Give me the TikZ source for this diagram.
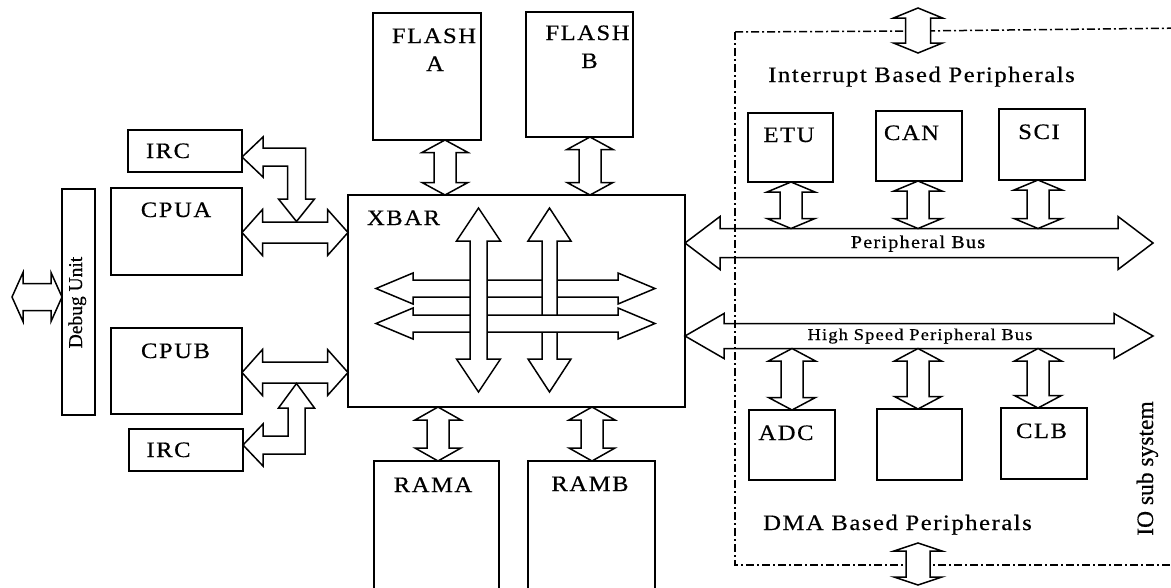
\documentclass[tikz,border=0pt]{standalone}
\usepackage{fontspec}
\setmainfont{Liberation Serif}[FakeBold=0.5]
\newfontfamily\widefont[FakeStretch=1.12,LetterSpace=7,FakeBold=0.5]{Liberation Serif}
\usetikzlibrary{calc,fit}
% vertical double block arrow: x(px), top anchor, bottom anchor, half head, half shaft, head length
\newcommand\vdaN[6]{\draw[barrow] let \p1=(#2), \p2=(#3) in
 (#1pt,\y1) -- ({#1pt+#4pt},{\y1-#6pt}) -- ({#1pt+#5pt},{\y1-#6pt}) -- ({#1pt+#5pt},{\y2+#6pt}) -- ({#1pt+#4pt},{\y2+#6pt}) -- (#1pt,\y2) -- ({#1pt-#4pt},{\y2+#6pt}) -- ({#1pt-#5pt},{\y2+#6pt}) -- ({#1pt-#5pt},{\y1-#6pt}) -- ({#1pt-#4pt},{\y1-#6pt}) -- cycle;}
% horizontal double block arrow: y(px), left anchor, right anchor, half head, half shaft, head length
\newcommand\hdaN[6]{\draw[barrow] let \p1=(#2), \p2=(#3) in
 (\x1,-#1pt) -- ({\x1+#6pt},{-#1pt+#4pt}) -- ({\x1+#6pt},{-#1pt+#5pt}) -- ({\x2-#6pt},{-#1pt+#5pt}) -- ({\x2-#6pt},{-#1pt+#4pt}) -- (\x2,-#1pt) -- ({\x2-#6pt},{-#1pt-#4pt}) -- ({\x2-#6pt},{-#1pt-#5pt}) -- ({\x1+#6pt},{-#1pt-#5pt}) -- ({\x1+#6pt},{-#1pt-#4pt}) -- cycle;}
\tikzset{
  box/.style={draw, line width=1.8pt, inner sep=0pt, outer sep=0pt},
  barrow/.style={draw, fill=white, line width=1.5pt, line join=miter},
  lab/.style={anchor=base, inner sep=0pt, font=\widefont\fontsize{22}{26}\selectfont},
  midlab/.style={anchor=base, inner sep=0pt, font=\widefont\fontsize{22}{26}\selectfont},
  buslab/.style={anchor=base, inner sep=0pt, font=\widefont\fontsize{18}{20}\selectfont},
  hslab/.style={anchor=base, inner sep=0pt, font=\widefont\fontsize{16.5}{18}\selectfont},
  iobox/.style={draw, line width=1.5pt, dash pattern=on 8pt off 3pt on 2pt off 3pt},
}
\begin{document}
\begin{tikzpicture}[x=1pt, y=-1pt]
\useasboundingbox (0,0) rectangle (1171,587);
\clip (0,0) rectangle (1171,587);
\fill[white] (0,0) rectangle (1171,587);

% boxes
\node[box, fit={(62,189) (95,415)}] (debug) {};
\node[box, fit={(128,130) (242,172)}] (irc1) {};
\node[box, fit={(111,188) (242,275)}] (cpua) {};
\node[box, fit={(111,328) (242,414)}] (cpub) {};
\node[box, fit={(129,429) (243,471)}] (irc2) {};
\node[box, fit={(348,195) (685,407)}] (xbar) {};
\node[box, fit={(373,13) (481,140)}] (flashA) {};
\node[box, fit={(526,12) (633,137)}] (flashB) {};
\node[box, fit={(374,461) (499,600)}] (rama) {};
\node[box, fit={(528,461) (655,600)}] (ramb) {};
\node[box, fit={(748,113) (833,182)}] (etu) {};
\node[box, fit={(876,111) (962,181)}] (can) {};
\node[box, fit={(999,109) (1085,180)}] (sci) {};
\node[box, fit={(749,410) (835,480)}] (adc) {};
\node[box, fit={(877,409) (962,480)}] (dmid) {};
\node[box, fit={(1001,408) (1087,479)}] (clb) {};

% labels
\node[lab] (tirc1) at (168,158) {IRC};
\node[lab] (tcpua) at (176,217) {CPUA};
\node[lab] (tcpub) at (175.5,358) {CPUB};
\node[lab] (tirc2) at (168.5,457) {IRC};
\node[lab] (txbar) at (403.5,225) {XBAR};
\node[lab] (tflashA1) at (434,43) {FLASH};
\node[lab] (tflashA2) at (435,71) {A};
\node[lab] (tflashB1) at (587.5,40) {FLASH};
\node[lab] (tflashB2) at (589.5,68) {B};
\node[lab] (trama) at (433,492) {RAMA};
\node[lab] (tramb) at (590,491) {RAMB};
\node[lab] (tetu) at (789,142) {ETU};
\node[lab] (tcan) at (911.5,140) {CAN};
\node[lab] (tsci) at (1039,139) {SCI};
\node[lab] (tadc) at (786,440) {ADC};
\node[lab] (tclb) at (1041.5,438) {CLB};
\node[anchor=base, inner sep=0pt, rotate=90, font=\fontsize{19.5}{22}\selectfont] (tdebug) at (82,302.5) {Debug Unit};
\node[anchor=base, inner sep=0pt, rotate=90, font=\fontsize{23.5}{26}\selectfont] (tio) at (1153,468.5) {IO sub system};
\node[midlab] (tint) at (921.5,82) {Interrupt Based Peripherals};
\node[midlab] (tdma) at (897.5,530) {DMA Based Peripherals};

% coordinates for free ends
\coordinate (dbgL) at (12,297);
\coordinate (pbusR) at (1153,243);
\coordinate (pbusS) at (918,228.5);
\coordinate (hsR) at (1153,336);
\coordinate (hsS) at (918,348.5);
\coordinate (ioT1) at (918,8);
\coordinate (ioT2) at (918,53);
\coordinate (ioB1) at (918,543);
\coordinate (ioB2) at (918,585);

% debug arrow
\hdaN{297}{dbgL}{debug.west}{24.5}{13.5}{11}
% CPU arrows
\hdaN{232.5}{cpua.east}{xbar.west}{23}{10.5}{20.5}
\hdaN{372.5}{cpub.east}{xbar.west}{23}{10.5}{20.5}
% IRC bent arrows
\draw[barrow] (irc1.east |- 0,157) -- (263,137) -- (263,148) -- (305.5,148) -- (305.5,199) -- (314.5,199) -- (296.5,221.5) -- (278.5,199) -- (287.5,199) -- (287.5,166) -- (263,166) -- (263,177) -- cycle;
\draw[barrow] (irc2.east |- 0,445) -- (263,424) -- (263,436) -- (288,436) -- (288,408) -- (278.5,408) -- (296.5,383.5) -- (314.5,408) -- (305,408) -- (305,454) -- (263,454) -- (263,466) -- cycle;
% memory arrows
\vdaN{445}{flashA.south}{xbar.north}{23}{11}{12.5}
\vdaN{590}{flashB.south}{xbar.north}{23}{11}{12.5}
\vdaN{438}{xbar.south}{rama.north}{23}{11}{13}
\vdaN{592}{xbar.south}{ramb.north}{23}{11}{13}

% XBAR internal arrows
\coordinate (h1L) at (376,288.5); \coordinate (h1R) at (655,288.5);
\coordinate (h2L) at (376,323.5); \coordinate (h2R) at (655,323.5);
\coordinate (vT) at (0,208); \coordinate (vB) at (0,392);
\hdaN{288.5}{h1L}{h1R}{15.5}{8.5}{37}
\vdaN{549.5}{vT}{vB}{21.5}{7.5}{33}
\hdaN{323.5}{h2L}{h2R}{15.5}{8.5}{37}
\vdaN{478.5}{vT}{vB}{22}{8.5}{33}

% buses
\hdaN{243}{xbar.east}{pbusR}{26.5}{14.5}{35}
\hdaN{336}{xbar.east}{hsR}{22.5}{12.5}{39}
\node[buslab] (tpbus) at (918,248) {Peripheral Bus};
\node[hslab] (ths) at (920,340) {High Speed Peripheral Bus};

% peripheral arrows
\vdaN{791}{etu.south}{pbusS}{24}{11}{10}
\vdaN{918}{can.south}{pbusS}{24}{11}{10}
\vdaN{1038}{sci.south}{pbusS}{24}{11}{10}
\vdaN{792}{hsS}{adc.north}{23.5}{11}{12.5}
\vdaN{918}{hsS}{dmid.north}{23.5}{11}{12.5}
\vdaN{1038}{hsS}{clb.north}{23.5}{11}{12.5}

% IO sub system frame
\draw[iobox] (735,32) -- (735,565) -- (1190,565);
\draw[iobox] (735,32) -- (918,31) -- (1190,28);
\vdaN{918}{ioT1}{ioT2}{24.5}{12.5}{10}
\vdaN{918}{ioB1}{ioB2}{24}{12}{8}
\end{tikzpicture}
\end{document}
